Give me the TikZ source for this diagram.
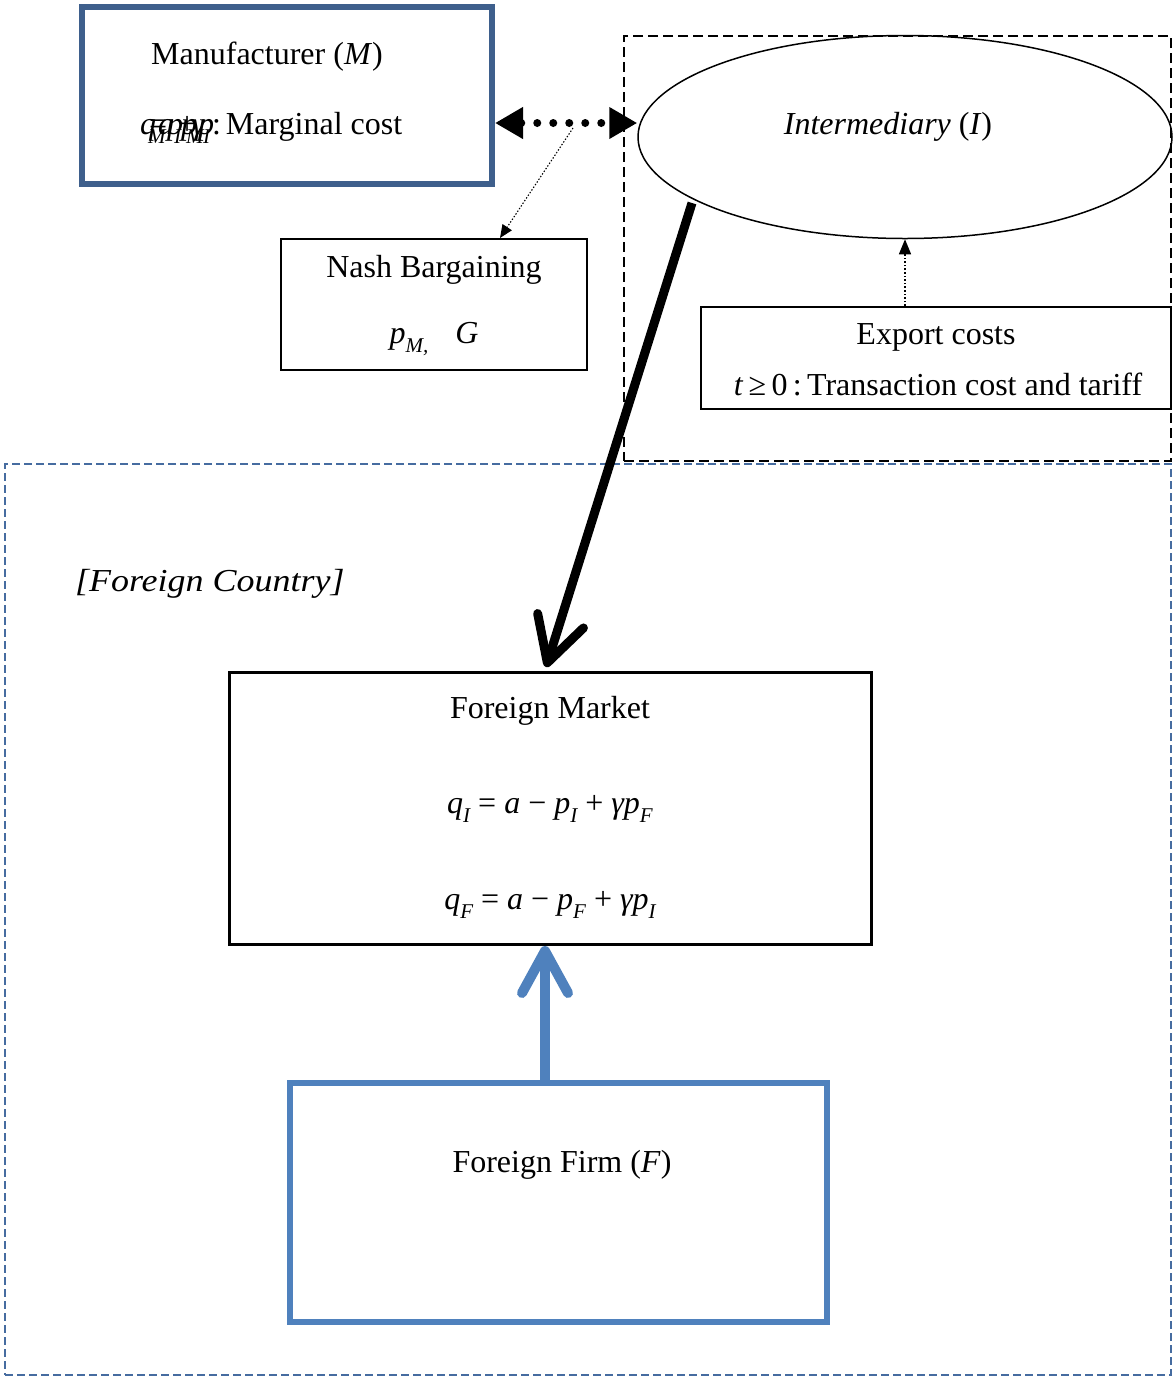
\documentclass[tikz,border=0pt]{standalone}
\usepackage{fontspec}
\setmainfont{Liberation Serif}
\usetikzlibrary{arrows.meta,shapes.geometric}
\definecolor{mblue}{RGB}{62,95,140}
\definecolor{fblue}{RGB}{79,129,189}
\definecolor{dblue}{RGB}{70,108,160}
\newcommand{\vr}[1]{\textit{#1}}
\newcommand{\sbs}[1]{\raisebox{-0.28em}{\fontsize{21}{21}\selectfont\itshape #1}}
\newcommand{\gp}{\hspace{8pt}}
\newcommand{\at}[2]{\rlap{\hspace{#1pt}#2}}
\begin{document}
\begin{tikzpicture}[x=1pt,y=-1pt,
  every node/.style={font=\fontsize{32}{38}\selectfont},
  txt/.style={inner sep=0pt, outer sep=0pt},
  boxnode/.style={draw, rectangle, inner sep=0pt},
  dotarrow/.style={line width=1.4pt, dash pattern=on 1.6pt off 2pt},
]
\useasboundingbox (0,0) rectangle (1173,1377);

% regions
\node[boxnode, draw=dblue, line width=1.6pt, dash pattern=on 8pt off 4pt,
      minimum width=1166, minimum height=911] (fc) at (588,919.5) {};
\node[boxnode, line width=2pt, dash pattern=on 10pt off 5pt,
      minimum width=547, minimum height=425] (ireg) at (897.5,248.5) {};

% manufacturer
\node[boxnode, draw=mblue, line width=6pt, minimum width=410, minimum height=177] (man) at (287,95.5) {};
\node[txt] (mant) at (267,57) {Manufacturer (\vr{M})};
\node[txt, anchor=west] (mc) at (140,128) {\makebox[72pt][l]{\at{0}{\vr{q}}\at{8}{\sbs{M}}\at{9}{=}\at{18}{\vr{a}}\at{27}{\vr{p}}\at{34}{\sbs{I}}\at{38}{+}\at{41}{\vr{p}}\at{46}{\sbs{M}}\at{52}{\vr{γ}}\at{58}{\vr{p}}\at{63}{\sbs{I}}}:\hspace{5pt}Marginal cost};

% intermediary
\node[draw, ellipse, line width=1.5pt, minimum width=534, minimum height=203, inner sep=0pt] (int) at (905,137) {};
\node[txt] (intt) at (888,127) {\vr{Intermediary} (\vr{I})};

% nash
\node[boxnode, line width=2pt, minimum width=306, minimum height=131] (nash) at (434,304.5) {};
\node[txt] (nasht) at (434,270) {Nash Bargaining};
\node[txt] (nashp) at (434,339) {\vr{p}\sbs{M}\sbs{,}\hspace{27pt}\vr{G}};

% export
\node[boxnode, line width=2pt, minimum width=470, minimum height=102] (exp) at (936,358) {};
\node[txt] (expt) at (936,337) {Export costs};
\node[txt] (expc) at (938,384) {\vr{t}\,≥\,0\,:\,Transaction cost and tariff};

% foreign country label
\node[txt, anchor=west] (fcl) at (75,584) {\scalebox{1.125}[1]{\vr{[Foreign Country]}}};

% market
\node[boxnode, line width=3pt, minimum width=642, minimum height=272] (mkt) at (550.5,808.5) {};
\node[txt] (mktt) at (550,711) {Foreign Market};
\node[txt] (eq1) at (550,809) {\vr{q}\sbs{I}\gp=\gp\vr{a}\gp−\gp\vr{p}\sbs{I}\gp+\gp\vr{γp}\sbs{F}};
\node[txt] (eq2) at (550,905) {\vr{q}\sbs{F}\gp=\gp\vr{a}\gp−\gp\vr{p}\sbs{F}\gp+\gp\vr{γp}\sbs{I}};

% firm
\node[boxnode, draw=fblue, line width=6pt, minimum width=537, minimum height=239] (firm) at (558.5,1202.5) {};
\node[txt] (firmt) at (562,1165) {Foreign Firm (\vr{F})};

% connectors
\coordinate (da) at (0,123);
\draw[line width=8pt, dash pattern=on 0pt off 16pt, line cap=round,
      {Triangle[length=28pt,width=30pt]}-{Triangle[length=28pt,width=30pt]}]
  (man.east |- da) -- (int.west |- da);

\coordinate (ns) at (573,128);
\coordinate (nt) at (500,0);
\draw[line width=1.1pt, dash pattern=on 1.4pt off 1.8pt, -{Triangle[length=13pt,width=11pt]}]
  (ns) -- (nash.north -| nt);

\draw[dotarrow, -{Triangle[length=15pt,width=12pt]}]
  (exp.north -| int.south) -- (int.south);

\coordinate (bs) at (692,203);
\coordinate (bt) at (546,667);
\draw[line width=9pt, -{Straight Barb[length=44pt,width=48pt,round]}] (bs) -- (bt);

\coordinate (ft) at (545,0);
\draw[fblue, line width=10pt, -{Straight Barb[length=42pt,width=46pt,round]}]
  (firm.north -| ft) -- (mkt.south -| ft);
\end{tikzpicture}
\end{document}
